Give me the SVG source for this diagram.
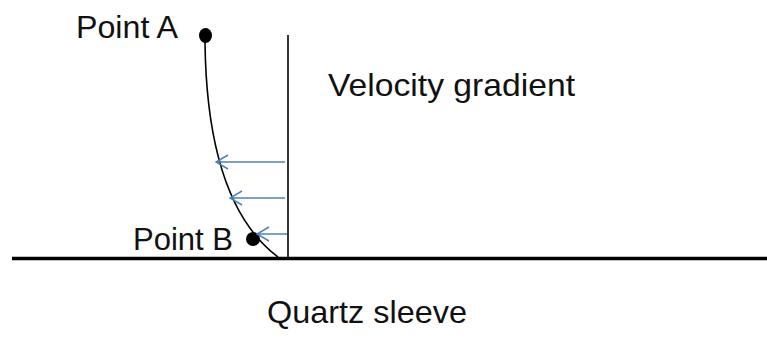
<svg xmlns="http://www.w3.org/2000/svg" width="767" height="360" viewBox="0 0 767 360">
<style>
text{font-family:"Liberation Sans",Arial,sans-serif;font-size:32px;fill:#111}
.arr{stroke:#4F81BD;stroke-width:1.5;fill:none}
.blk{stroke:#000;fill:none}
</style>
<defs>
<marker id="chev" markerUnits="userSpaceOnUse" markerWidth="16" markerHeight="16" refX="15" refY="8" orient="auto" viewBox="0 0 16 16">
<path d="M3,1 L15,8 L3,15" fill="none" stroke="#4F81BD" stroke-width="1.5"/>
</marker>
</defs>
<rect width="767" height="360" fill="#fff"/>
<g id="sleeve">
<line class="blk" x1="12" y1="258.5" x2="767" y2="258.5" stroke-width="3.5"/>
<text x="267" y="323" textLength="200" lengthAdjust="spacingAndGlyphs">Quartz sleeve</text>
</g>
<g id="wall">
<line class="blk" x1="288" y1="35" x2="288" y2="258" stroke-width="1.6"/>
</g>
<g id="profile">
<path class="blk" d="M205,42 C206,130 222,215 278,257" stroke-width="1.6" stroke="#333"/>
</g>
<g id="pointA">
<ellipse cx="205.5" cy="35.5" rx="6.5" ry="7.5" fill="#000"/>
<text x="76" y="38" textLength="102" lengthAdjust="spacingAndGlyphs">Point A</text>
</g>
<g id="pointB">
<circle cx="253" cy="239" r="7" fill="#000"/>
<text x="133" y="250" textLength="100" lengthAdjust="spacingAndGlyphs">Point B</text>
</g>
<g id="label">
<text x="328" y="96" textLength="247" lengthAdjust="spacingAndGlyphs">Velocity gradient</text>
</g>
<g id="connectors">
<line class="arr" x1="285" y1="162" x2="216" y2="162" marker-end="url(#chev)"/>
<line class="arr" x1="285" y1="198" x2="230" y2="198" marker-end="url(#chev)"/>
<line class="arr" x1="287" y1="234" x2="257" y2="234" marker-end="url(#chev)"/>
</g>
</svg>
